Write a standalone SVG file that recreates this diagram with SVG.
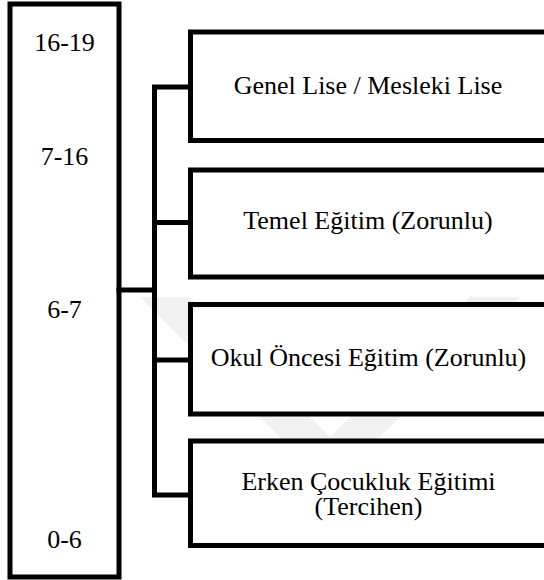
<svg xmlns="http://www.w3.org/2000/svg" width="544" height="580" viewBox="0 0 544 580">
<style>
.box{fill:#fff;stroke:#000;stroke-width:5}
.ln{fill:none;stroke:#000;stroke-width:5;stroke-linecap:square}
.t{font-family:"Liberation Serif","Times New Roman",serif;font-size:26px;fill:#000;text-anchor:middle}
.wm{fill:#f1f1f1}
</style>
<rect width="544" height="580" fill="#fff"/>
<g id="watermark">
<polygon class="wm" points="140,297 190,297 330,437 470,297 520,297 330,487"/>
</g>
<g id="ages">
<rect class="box" x="10" y="4" width="109" height="573"/>
<text class="t" x="64.5" y="51">16-19</text>
<text class="t" x="64.5" y="165">7-16</text>
<text class="t" x="64.5" y="318">6-7</text>
<text class="t" x="64.5" y="548">0-6</text>
</g>
<g id="connectors">
<path class="ln" d="M119 290H154.5M154.5 87V495M154.5 87H190M154.5 222.5H190M154.5 360H190M154.5 495H190"/>
</g>
<g id="lise">
<rect class="box" x="190.5" y="32" width="370" height="108.5"/>
<text class="t" x="368" y="94">Genel Lise / Mesleki Lise</text>
</g>
<g id="temel">
<rect class="box" x="190.5" y="170" width="370" height="107"/>
<text class="t" x="368" y="229">Temel Eğitim (Zorunlu)</text>
</g>
<g id="okuloncesi">
<rect class="box" x="190.5" y="304.5" width="370" height="109.5"/>
<text class="t" x="368.5" y="366">Okul Öncesi Eğitim (Zorunlu)</text>
</g>
<g id="erken">
<rect class="box" x="190.5" y="441" width="370" height="104.5"/>
<text class="t" x="368.5" y="490">Erken Çocukluk Eğitimi</text>
<text class="t" x="368.5" y="515">(Tercihen)</text>
</g>
</svg>
